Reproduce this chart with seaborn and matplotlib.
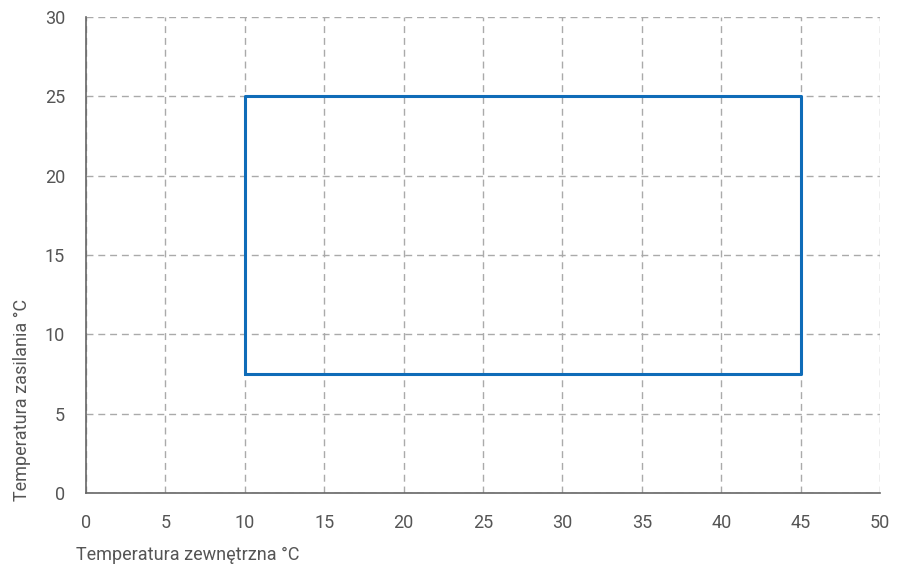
import matplotlib
matplotlib.use('Agg')

import matplotlib.pyplot as plt
import seaborn as sns
import pandas as pd

# operating range outline (outdoor temp vs supply temp)
outdoor_temp = [10, 45, 45, 10, 10]
supply_temp = [7.5, 7.5, 25, 25, 7.5]
x_ticks = [0, 5, 10, 15, 20, 25, 30, 35, 40, 45, 50]
y_ticks = [0, 5, 10, 15, 20, 25, 30]

df = pd.DataFrame({'x': outdoor_temp, 'y': supply_temp})

sns.set_style('white')
plt.rcParams['font.family'] = ['Roboto', 'DejaVu Sans']

fig = plt.figure(figsize=(9.06, 5.67), dpi=100)
ax = fig.add_axes([0.0949, 0.1305, 0.8764, 0.8395])

sns.lineplot(data=df, x='x', y='y', sort=False, estimator=None, color='#0f6cb8',
             linewidth=2.2, ax=ax, zorder=3)

ax.set_xlim(0, 50)
ax.set_ylim(0, 30)
ax.set_xticks(x_ticks)
ax.set_yticks(y_ticks)
ax.grid(True, linestyle=(0, (5, 3.5)), color='#aaaaaa', linewidth=1)
ax.set_axisbelow(True)

for side in ['top', 'right']:
    ax.spines[side].set_visible(False)
for side in ['left', 'bottom']:
    ax.spines[side].set_color('#666666')
    ax.spines[side].set_linewidth(1.2)

ax.tick_params(axis='both', direction='out', length=10, width=1.2, color='#666666',
               labelsize=13, labelcolor='#555555', pad=5)

ax.set_xlabel('')
ax.set_ylabel('')
fig.text(76 / 906, 1 - 555 / 567, 'Temperatura zewnętrzna °C', fontsize=13, color='#555555',
         ha='left', va='center')
fig.text(22 / 906, 1 - 501 / 567, 'Temperatura zasilania °C', fontsize=13, color='#555555',
         rotation=90, ha='center', va='bottom')

plt.savefig('out.png', dpi=100)
plt.close()
